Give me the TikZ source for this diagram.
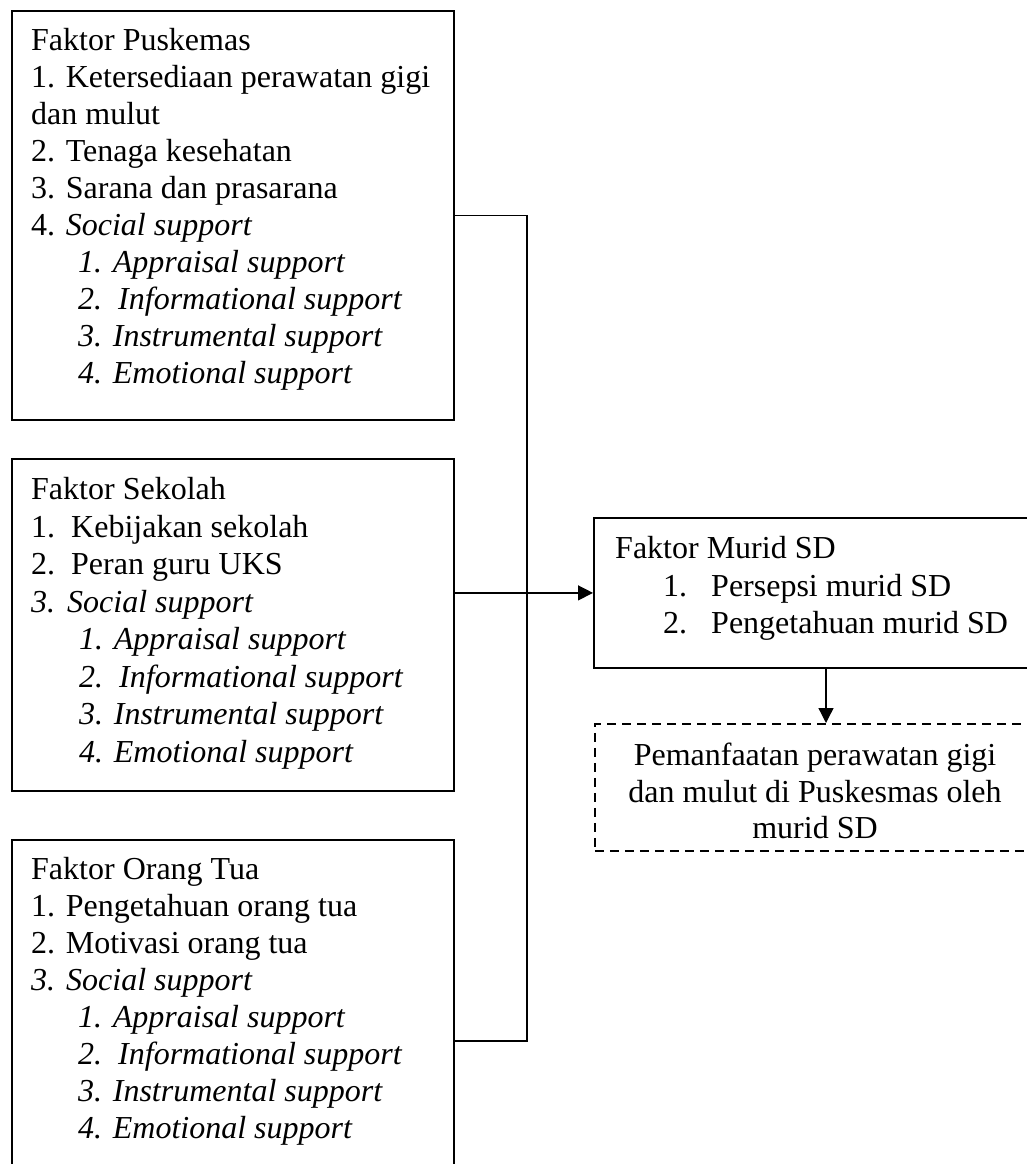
\documentclass[tikz,border=0pt]{standalone}
\usepackage{fontspec}
\setmainfont{Liberation Serif}
\usetikzlibrary{arrows.meta}
\begin{document}
\begin{tikzpicture}[x=1pt,y=1pt,
  boxframe/.style={draw, line width=1.8pt, rectangle, inner sep=0pt, anchor=north west},
  dashframe/.style={draw, line width=1.5pt, dash pattern=on 9pt off 6pt, rectangle, inner sep=0pt, anchor=north west},
  txtline/.style={anchor=base west, inner sep=0pt, font=\fontsize{32pt}{37pt}\selectfont},
  ctrline/.style={anchor=base, inner sep=0pt, font=\fontsize{32pt}{37pt}\selectfont},
  conn/.style={line width=1.3pt},
  tip/.style={-{Triangle[length=15pt,width=15pt]}}
]
\useasboundingbox (0,0) rectangle (1027,-1164);
\fill[white] (0,0) rectangle (1027,-1164);

% boxes
\node[boxframe, minimum width=442pt, minimum height=409pt] (pus) at (11,-10) {};
\node[boxframe, minimum width=442pt, minimum height=332pt] (sek) at (11,-458) {};
\node[boxframe, minimum width=442pt, minimum height=402pt] (ortu) at (11,-839) {};
\node[boxframe, minimum width=466pt, minimum height=150pt] (mur) at (593,-517) {};
\node[dashframe, minimum width=442pt, minimum height=127pt] (pem) at (594,-723) {};

% Faktor Puskemas
\foreach \yy/\xx/\txt [count=\i] in {
  50.5/31/{Faktor Puskemas},
  87.5/31/{1. Ketersediaan perawatan gigi},
  124.6/31/{dan mulut},
  161.6/31/{2. Tenaga kesehatan},
  198.6/31/{3. Sarana dan prasarana},
  235.7/31/{4. \textit{Social support}},
  272.7/78/{\textit{1. Appraisal support}},
  309.7/78/{\textit{2.\ \ Informational support}},
  346.8/78/{\textit{3. Instrumental support}},
  383.8/78/{\textit{4. Emotional support}}}
  \node[txtline] (pusl\i) at (\xx,-\yy) {\txt};

% Faktor Sekolah
\foreach \yy/\xx/\txt [count=\i] in {
  499/31/{Faktor Sekolah},
  537/31/{1.\ \ Kebijakan sekolah},
  574.5/31/{2.\ \ Peran guru UKS},
  612/31/{\textit{3.\hspace{12pt}Social support}},
  649.5/79/{\textit{1. Appraisal support}},
  687/79/{\textit{2.\ \ Informational support}},
  724.5/79/{\textit{3. Instrumental support}},
  762/79/{\textit{4. Emotional support}}}
  \node[txtline] (sekl\i) at (\xx,-\yy) {\txt};

% Faktor Orang Tua
\foreach \yy/\xx/\txt [count=\i] in {
  879/31/{Faktor Orang Tua},
  916/31/{1. Pengetahuan orang tua},
  953/31/{2. Motivasi orang tua},
  990/31/{\textit{3.\hspace{11pt}Social support}},
  1027/78/{\textit{1. Appraisal support}},
  1064/78/{\textit{2.\ \ Informational support}},
  1101/78/{\textit{3. Instrumental support}},
  1138/78/{\textit{4. Emotional support}}}
  \node[txtline] (ortul\i) at (\xx,-\yy) {\txt};

% Faktor Murid SD
\node[txtline] (murl1) at (615,-558) {Faktor Murid SD};
\node[txtline] (murl2) at (663,-596) {\makebox[48pt][l]{1.}Persepsi murid SD};
\node[txtline] (murl3) at (663,-633) {\makebox[48pt][l]{2.}Pengetahuan murid SD};

% Pemanfaatan
\node[ctrline] (peml1) at (815,-765) {Pemanfaatan perawatan gigi};
\node[ctrline] (peml2) at (815,-802) {dan mulut di Puskesmas oleh};
\node[ctrline] (peml3) at (815,-838) {murid SD};

% connectors
\coordinate (jx) at (527,0);
\coordinate (ax) at (826,0);
\draw[conn] (pus.east) -- (pus.east -| jx) -- (ortu.east -| jx) -- (ortu.east);
\draw[conn, tip] (sek.east |- mur.west) -- (mur.west);
\draw[conn, tip] (mur.south -| ax) -- (pem.north -| ax);
\end{tikzpicture}
\end{document}
